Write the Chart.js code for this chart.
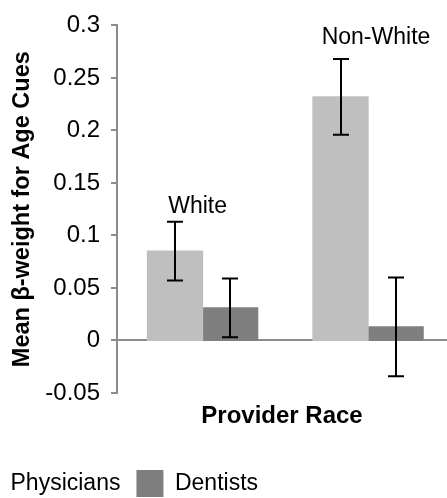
<!DOCTYPE html>
<html>
<head>
<meta charset="utf-8">
<script src="https://cdn.jsdelivr.net/npm/chart.js@4.4.0/dist/chart.umd.min.js"></script>
<style>
html, body { margin: 0; padding: 0; overflow: hidden; background: #fff; }
/* canvas is a bit wider/taller than the window so the legend gets clipped like the original */
#wrap { position: absolute; left: -44px; top: 0; width: 491px; height: 507px; }
</style>
</head>
<body>
<div id="wrap"><canvas id="chart"></canvas></div>
<script>
const groups = ['White', 'Non-White'];
const seriesNames = ['Physicians', 'Dentists'];
const physicians = [0.085, 0.232];
const dentists = [0.031, 0.013];
const physiciansErr = [0.028, 0.036];
const dentistsErr = [0.028, 0.047];
const yTickLabels = ['-0.05', '0', '0.05', '0.1', '0.15', '0.2', '0.25', '0.3'];
// group names drawn above the bars (x in group units, y in axis units)
const groupLabelX = [-0.03, 1.048];
const groupLabelY = [0.121, 0.282];

const FONT = "'Liberation Sans', Arial, sans-serif";
Chart.defaults.font.family = FONT;
Chart.defaults.color = '#000';

const errorBars = {
    id: 'errorBars',
    afterDatasetsDraw(chart) {
        const ctx = chart.ctx;
        const y = chart.scales.y;
        ctx.save();
        ctx.strokeStyle = '#000';
        ctx.lineWidth = 2;
        chart.data.datasets.forEach((ds, di) => {
            const meta = chart.getDatasetMeta(di);
            meta.data.forEach((bar, i) => {
                const v = ds.data[i].y, e = ds.errors[i];
                const top = y.getPixelForValue(v + e);
                const bot = y.getPixelForValue(v - e);
                const cx = Math.round(bar.x);
                ctx.beginPath();
                ctx.moveTo(cx, top); ctx.lineTo(cx, bot);
                ctx.moveTo(cx - 8, top); ctx.lineTo(cx + 8, top);
                ctx.moveTo(cx - 8, bot); ctx.lineTo(cx + 8, bot);
                ctx.stroke();
            });
        });
        ctx.restore();
    }
};

const groupNames = {
    id: 'groupNames',
    afterDatasetsDraw(chart) {
        const ctx = chart.ctx;
        const {x, y} = chart.scales;
        ctx.save();
        ctx.font = '23px ' + FONT;
        ctx.fillStyle = '#000';
        ctx.textAlign = 'center';
        ctx.textBaseline = 'alphabetic';
        groups.forEach((g, i) => {
            ctx.fillText(g, x.getPixelForValue(groupLabelX[i]), y.getPixelForValue(groupLabelY[i]));
        });
        ctx.restore();
    }
};

const toPoints = arr => arr.map((v, i) => ({x: i, y: v}));

new Chart(document.getElementById('chart'), {
    type: 'bar',
    data: {
        datasets: [
            { label: seriesNames[0], data: toPoints(physicians), errors: physiciansErr, backgroundColor: '#bfbfbf', borderWidth: 0, inflateAmount: 0.6 },
            { label: seriesNames[1], data: toPoints(dentists), errors: dentistsErr, backgroundColor: '#7f7f7f', borderWidth: 0, inflateAmount: 0.6 }
        ]
    },
    options: {
        responsive: true,
        maintainAspectRatio: false,
        animation: false,
        categoryPercentage: 0.67,
        barPercentage: 1,
        layout: { padding: { top: 20, left: 0, right: 0, bottom: 0 } },
        plugins: {
            tooltip: { enabled: false },
            legend: {
                position: 'bottom',
                align: 'start',
                labels: { boxWidth: 27, boxHeight: 27, padding: 16, font: { size: 23 }, color: '#000' }
            }
        },
        scales: {
            x: {
                type: 'linear',
                bounds: 'data',
                offset: false,
                min: -0.517,
                max: 1.477,
                ticks: { display: false, stepSize: 1, includeBounds: false },
                grid: { display: false, drawTicks: false },
                border: { display: false },
                title: { display: true, text: 'Provider Race', font: { size: 24, weight: 'bold' }, color: '#000', padding: { top: 8.6, bottom: 23.6 } }
            },
            y: {
                min: -0.05,
                max: 0.3,
                ticks: {
                    stepSize: 0.05,
                    padding: 11,
                    font: { size: 24 },
                    color: '#000',
                    callback: (v, i) => yTickLabels[i]
                },
                grid: {
                    color: c => (c.tick && Math.abs(c.tick.value) < 1e-9) ? '#8c8c8c' : 'rgba(0,0,0,0)',
                    tickColor: '#8c8c8c',
                    tickLength: 6,
                    lineWidth: 2
                },
                border: { display: true, color: '#8c8c8c', width: 2 },
                title: { display: true, text: 'Mean β-weight for Age Cues', font: { size: 23.5, weight: 'bold' }, color: '#000', padding: { top: 52, bottom: 0 } },
                afterFit: s => { s.width = 161; }
            }
        }
    },
    plugins: [errorBars, groupNames]
});
</script>
</body>
</html>
